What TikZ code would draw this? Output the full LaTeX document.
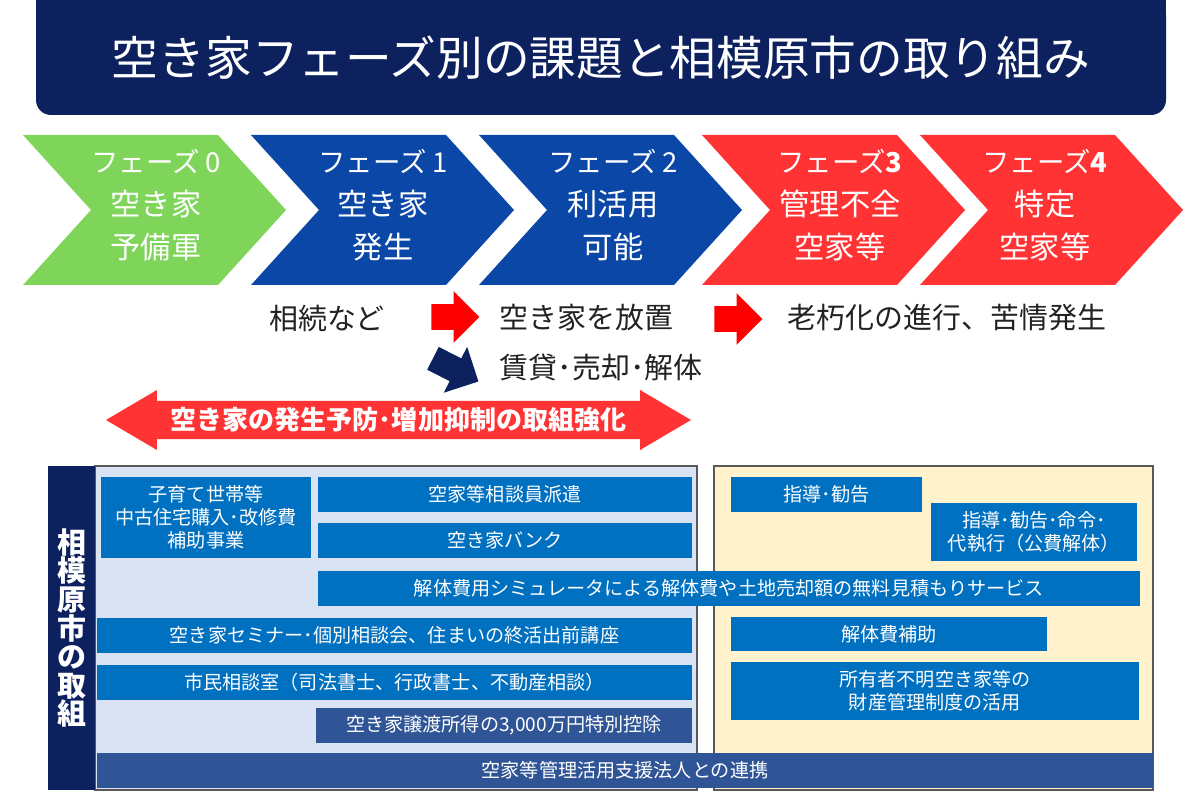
\documentclass[tikz,border=0pt]{standalone}
\usepackage{fontspec}
\setmainfont{Noto Sans CJK JP}
\usepackage{xcolor}
\usepackage{tikz}
\usetikzlibrary{positioning,fit,shapes.arrows}

\definecolor{titlenavy}{RGB}{13,33,95}
\definecolor{phasegreen}{RGB}{126,213,89}
\definecolor{phaseblue}{RGB}{11,71,166}
\definecolor{phasered}{RGB}{255,51,51}
\definecolor{arrowred}{RGB}{255,0,0}
\definecolor{boxblue}{RGB}{0,112,192}
\definecolor{boxdark}{RGB}{47,85,151}
\definecolor{panelblue}{RGB}{218,227,243}
\definecolor{panelcream}{RGB}{255,242,204}
\definecolor{textgray}{RGB}{34,34,34}

\newcommand{\pu}{0.025cm}

\begin{document}
\begin{tikzpicture}[x=\pu, y=-\pu,
    chev/.style={text=white, align=center, font=\fontsize{21.5}{30.5}\selectfont},
    note/.style={text=textgray, font=\fontsize{20.6}{26}\selectfont},
    flow/.style={single arrow, inner xsep=0pt, inner ysep=12.5*\pu, minimum height=48*\pu, minimum width=51*\pu, single arrow head extend=13*\pu},
    cell/.style={fill=boxblue, text=white, inner sep=0pt, align=center, font=\fontsize{13.6}{16.5}\selectfont},
    panel/.style={draw=black!65, line width=0.8pt, inner sep=0pt}
]
\useasboundingbox (0,0) rectangle (1201,799);

\node[fill=titlenavy, inner sep=0pt, minimum width=1130*\pu, minimum height=115*\pu, rounded corners=0.375cm,
      text=white, font=\fontsize{33.2}{40}\selectfont] (title) at (601,57.5) {空き家フェーズ別の課題と相模原市の取り組み};
\fill[titlenavy] (title.north west) rectangle ([yshift=-0.5cm]title.north east);

\foreach \lx/\col in {23/phasegreen, 251/phaseblue, 479/phaseblue, 702/phasered, 920/phasered}
  \fill[\col] (\lx,135) -- ++(195,0) -- ++(68,75) -- ++(-68,75) -- ++(-195,0) -- ++(68,-75) -- cycle;

\node[chev] (ph0) at (156,205) {{\fontsize{19.5}{22}\selectfont フェーズ 0}\\空き家\\予備軍};
\node[chev] (ph1) at (383,205) {{\fontsize{19.5}{22}\selectfont フェーズ 1}\\空き家\\発生};
\node[chev] (ph2) at (613,205) {{\fontsize{19.5}{22}\selectfont フェーズ 2}\\利活用\\可能};
\node[chev] (ph3) at (840,205) {{\fontsize{19.5}{22}\selectfont フェーズ\textbf{3}}\\管理不全\\空家等};
\node[chev] (ph4) at (1045,205) {{\fontsize{19.5}{22}\selectfont フェーズ\textbf{4}}\\特定\\空家等};

\node[note] (inherit) at (327,318) {相続など};
\node[flow, fill=arrowred] (toneglect) at (449,317) {};
\node[note, anchor=west] (neglect) at (495,318) {空き家を放置};
\node[flow, fill=titlenavy, rotate=-27, minimum height=51*\pu] (tomarket) at (450,367) {};
\node[note, anchor=west] (market) at (495,367) {賃貸･売却･解体};
\node[flow, fill=arrowred] (todecay) at (732,319) {};
\node[note, anchor=west] (decay) at (783,318) {老朽化の進行、苦情発生};

\node[double arrow, fill=phasered, inner xsep=0pt, inner ysep=5*\pu, minimum height=585*\pu, minimum width=60*\pu,
      double arrow head extend=10*\pu, double arrow tip angle=61,
      text=white, font=\bfseries\fontsize{18.5}{22}\selectfont] (prevent) at (398.5,420) {空き家の発生予防･増加抑制の取組強化};

\node[panel, fill=panelblue, fit={(95,466)(697,790)}] (leftpanel) {};
\node[panel, fill=panelcream, fit={(714,466)(1153,790)}] (rightpanel) {};
\node[fill=titlenavy, inner sep=0pt, minimum width=47*\pu, minimum height=324*\pu, align=center, text=white,
      font=\bfseries\fontsize{20.6}{20.3}\selectfont] (city) at (71.5,628) {相\\模\\原\\市\\の\\取\\組};

\node[cell, minimum width=210*\pu, minimum height=81*\pu] (subsidy) at (206,517.5) {子育て世帯等\\中古住宅購入･改修費\\補助事業};
\node[cell, minimum width=374*\pu, minimum height=35*\pu] (advisor) at (505,494.5) {空家等相談員派遣};
\node[cell, minimum width=374*\pu, minimum height=35*\pu] (bank) at (505,540.5) {空き家バンク};
\node[cell, minimum width=822*\pu, minimum height=35*\pu] (estimate) at (729,588.5) {解体費用シミュレータによる解体費や土地売却額の無料見積もりサービス};
\node[cell, minimum width=595*\pu, minimum height=35*\pu] (seminar) at (394.5,635.5) {空き家セミナー･個別相談会、住まいの終活出前講座};
\node[cell, minimum width=595*\pu, minimum height=35*\pu] (consult) at (394.5,682.5) {市民相談室（司法書士、行政書士、不動産相談）};
\node[cell, fill=boxdark, minimum width=376*\pu, minimum height=35*\pu] (taxcut) at (504,725.5) {空き家譲渡所得の3,000万円特別控除};

\node[cell, minimum width=191*\pu, minimum height=35*\pu] (guide) at (826.5,494.5) {指導･勧告};
\node[cell, minimum width=206*\pu, minimum height=58*\pu] (order) at (1034,532) {指導･勧告･命令･\\代執行（公費解体）};
\node[cell, minimum width=316*\pu, minimum height=34*\pu] (demolish) at (889,634) {解体費補助};
\node[cell, minimum width=408*\pu, minimum height=58*\pu] (unknown) at (935,691) {所有者不明空き家等の\\財産管理制度の活用};

\node[cell, fill=boxdark, minimum width=1056*\pu, minimum height=35*\pu] (alliance) at (625,770.5) {空家等管理活用支援法人との連携};
\end{tikzpicture}
\end{document}
